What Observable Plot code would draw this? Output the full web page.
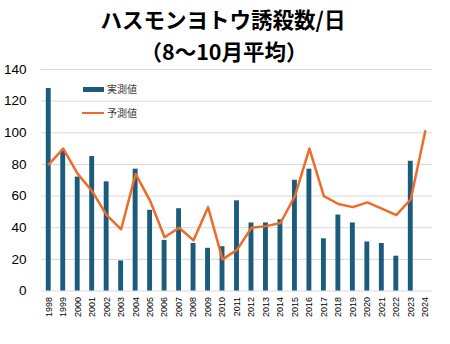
<!DOCTYPE html>
<html>
<head>
<meta charset="utf-8">
<script src="https://cdn.jsdelivr.net/npm/d3@7"></script>
<script src="https://cdn.jsdelivr.net/npm/@observablehq/plot@0.6"></script>
<style>
  body { margin: 0; background: #fff; }
  #wrap { position: relative; width: 450px; height: 344px; overflow: hidden; font-family: "Noto Sans CJK JP", "Liberation Sans", sans-serif; }
  .title { position: absolute; left: 0; width: 450px; text-align: center; font-weight: bold; color: #000; font-size: 21.5px; line-height: 26px; }
  .leg { position: absolute; font-size: 10px; color: #404040; line-height: 12px; white-space: nowrap; }
  .sw { position: absolute; }
</style>
</head>
<body>
<div id="wrap">
  <div id="chart"></div>
  <div class="title" style="top:6px; left:-2px">ハスモンヨトウ誘殺数/日</div>
  <div class="title" style="top:38px; left:-1px">（8～10月平均）</div>
  <div class="sw" style="left:83px; top:87px; width:21px; height:5px; background:#1b5b7b"></div>
  <div class="leg" style="left:107px; top:83px">実測値</div>
  <div class="sw" style="left:82px; top:112px; width:22px; height:2px; background:#ef6b28"></div>
  <div class="leg" style="left:107px; top:107px">予測値</div>
</div>
<script>
const years = ["1998","1999","2000","2001","2002","2003","2004","2005","2006","2007","2008","2009","2010","2011","2012","2013","2014","2015","2016","2017","2018","2019","2020","2021","2022","2023","2024"];
const observed = [128, 89, 72, 85, 69, 19, 77, 51, 32, 52, 30, 27, 28, 57, 43, 43, 45, 70, 77, 33, 48, 43, 31, 30, 22, 82, null];
const predicted = [80, 90, 74, 63, 48, 39, 74, 57, 34, 40, 32, 53, 20, 26, 40, 41, 43, 60, 90, 60, 55, 53, 56, 52, 48, 58, 101];
const yTicks = [0, 20, 40, 60, 80, 100, 120, 140];

const barData = years.map((y, i) => ({year: y, value: observed[i]})).filter(d => d.value != null);
const lineData = years.map((y, i) => ({year: y, value: predicted[i]}));

const chart = Plot.plot({
  width: 450,
  height: 344,
  marginTop: 69,
  marginBottom: 53.5,
  marginLeft: 41,
  marginRight: 18,
  style: {fontFamily: "'Liberation Sans', Arial, sans-serif", background: "transparent"},
  x: {type: "band", domain: years, padding: 0, round: false},
  y: {domain: [0, 140]},
  marks: [
    Plot.gridY(yTicks, {stroke: "#d9d9d9", strokeOpacity: 1, strokeWidth: 1}),
    Plot.axisY(yTicks, {tickSize: 0, tickPadding: 15, fontSize: 13.5, fill: "#000", label: null}),
    Plot.axisX({tickSize: 0, tickPadding: 6, tickRotate: -90, fontSize: 9, fill: "#000", label: null}),
    Plot.barY(barData, {x: "year", y: "value", fill: "#1b5b7b", insetLeft: 4.8, insetRight: 4.8}),
    Plot.lineY(lineData, {x: "year", y: "value", stroke: "#ef6b28", strokeWidth: 2.5, curve: "linear"})
  ]
});
document.getElementById("chart").appendChild(chart);
</script>
</body>
</html>
